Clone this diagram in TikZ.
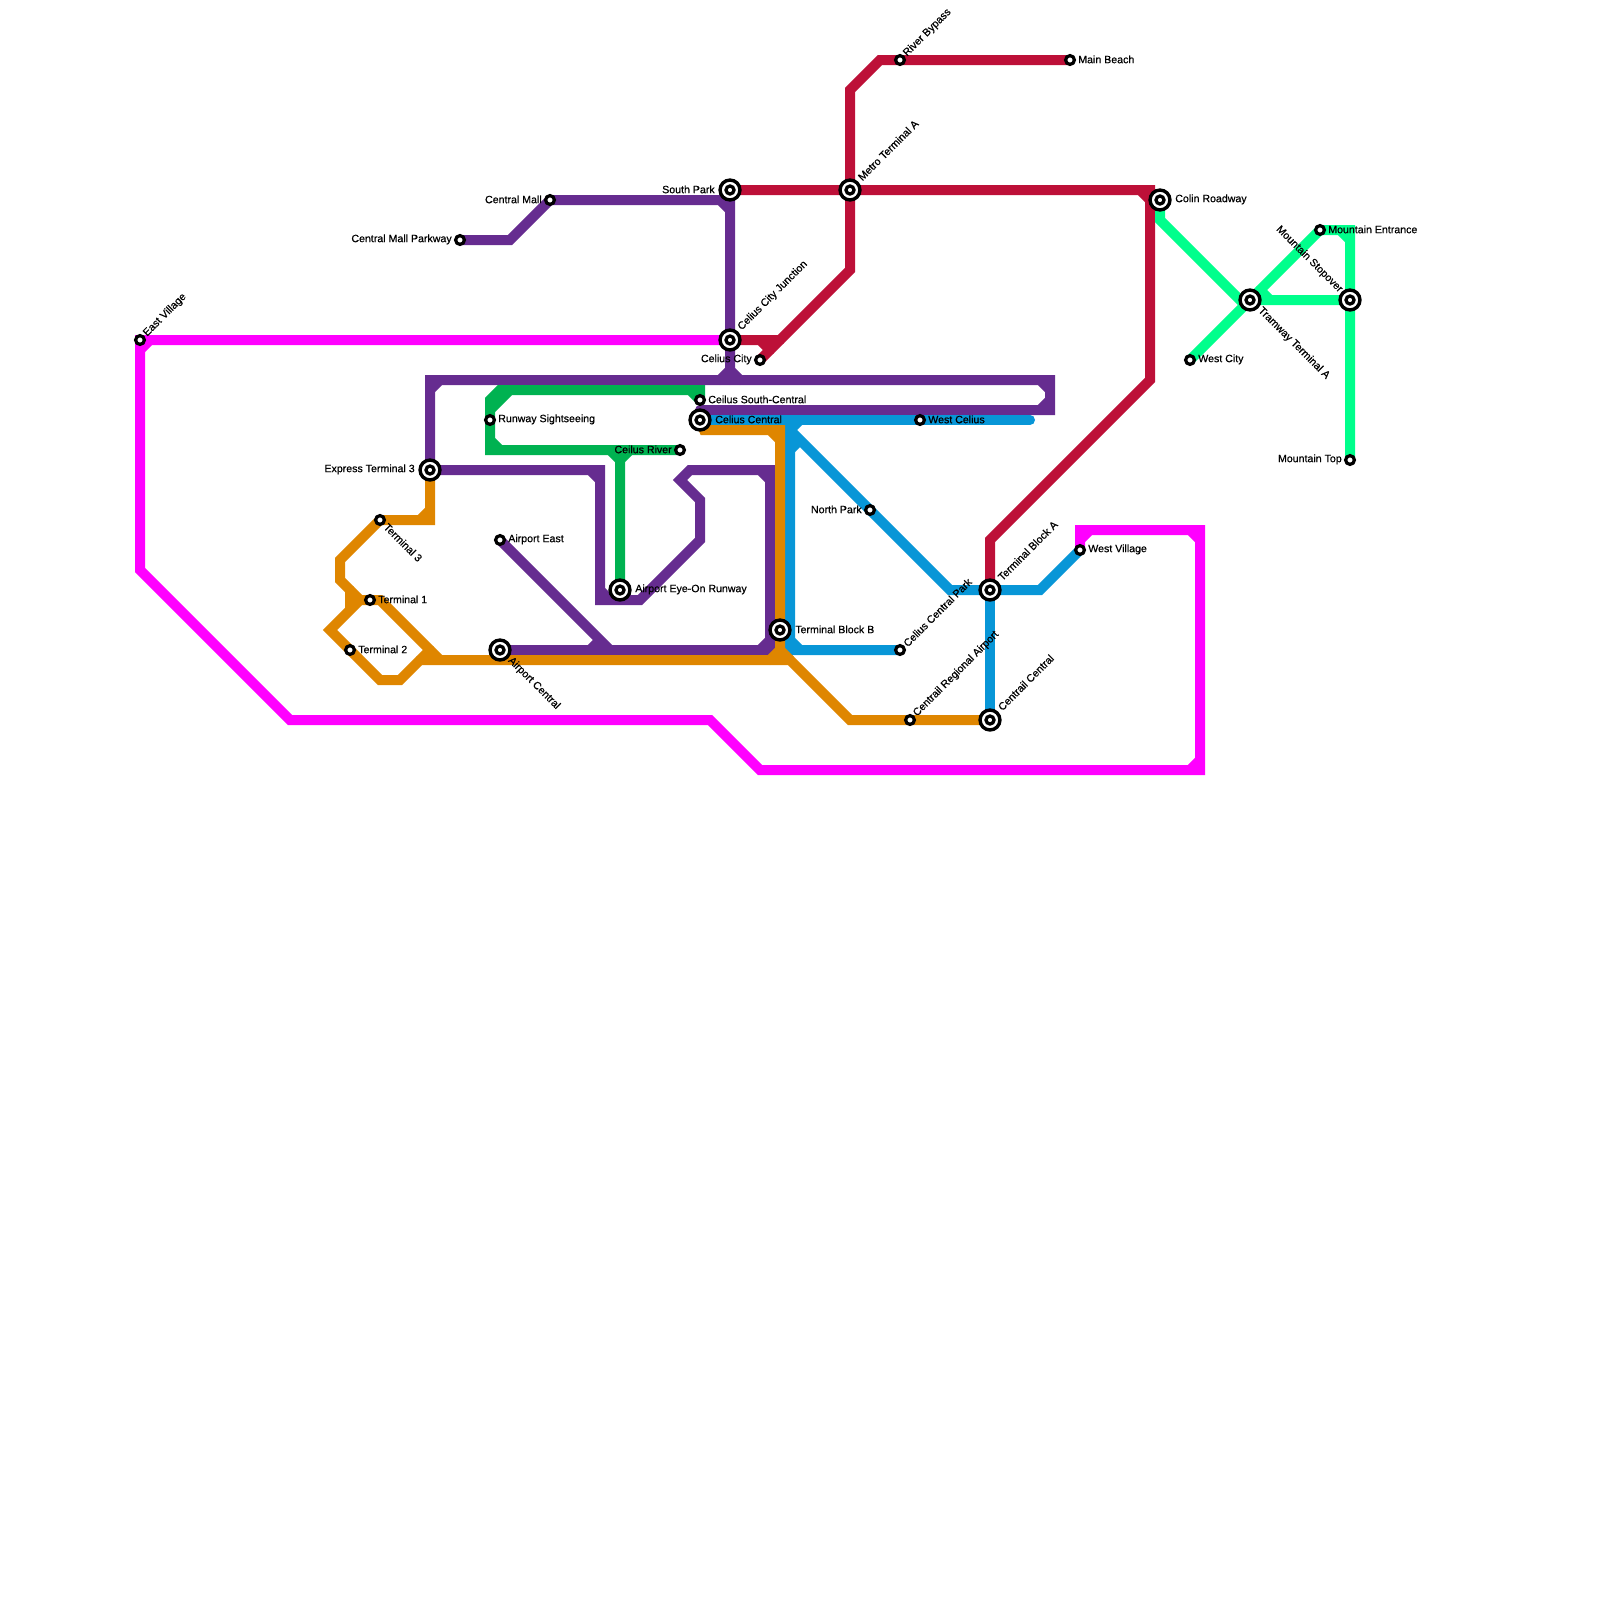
\documentclass[tikz,border=0pt]{standalone}
\usepackage{fontspec}
\setmainfont{Liberation Sans}[FakeBold=0.5]
\usetikzlibrary{backgrounds}
\definecolor{linemagenta}{HTML}{FF00FF}
\definecolor{linepurple}{HTML}{662C90}
\definecolor{linegreen}{HTML}{00B251}
\definecolor{lineorange}{HTML}{DF8600}
\definecolor{lineblue}{HTML}{0896D7}
\definecolor{linered}{HTML}{BD1038}
\definecolor{linemint}{HTML}{00FF8C}
\begin{document}
\begin{tikzpicture}[
    x=2.5mm, y=-2.5mm,
    metro/.style = {line width=2.5mm, line cap=round, line join=miter},
    stn/.style = {
        circle,
        draw=black,
        fill=white,
        line width=0.81mm,
        minimum size=2.19mm,
        inner sep=0pt
    },
    stnx/.style = {
        stn,
        line width=0.85mm,
        minimum size=4.98mm,
        path picture={\draw[line width=0.82mm] (path picture bounding box.center) circle (1mm);}
    },
    lab/.style  = {font=\fontsize{7.55}{8}\selectfont, inner sep=0pt, text=black},
    labe/.style  = {lab, anchor=west, xshift=2mm, yshift=0.15mm},
    labex/.style = {lab, anchor=west, xshift=3.75mm, yshift=0.15mm},
    labw/.style  = {lab, anchor=east, xshift=-2mm, yshift=0.15mm},
    labwx/.style = {lab, anchor=east, xshift=-3.75mm, yshift=0.15mm},
    labne/.style  = {lab, xshift=1.25mm, yshift=1.25mm, anchor=west, rotate=45},
    labnex/.style = {lab, xshift=2.4mm, yshift=2.8mm, anchor=west, rotate=45},
    labse/.style  = {lab, xshift=1.4mm, yshift=-1.25mm, anchor=west, rotate=-45},
    labsex/.style = {lab, xshift=2.4mm, yshift=-2.25mm, anchor=west, rotate=-45},
    labnwx/.style = {lab, xshift=-2.25mm, yshift=2.25mm, anchor=east, rotate=-45}
]

\useasboundingbox (0,0) rectangle (160,160);

\node[stn]  (eastvillage) at (14,34) {};
\node[stn]  (mallparkway) at (46,24) {};
\node[stn]  (centralmall) at (55,20) {};
\node[stnx] (southpark) at (73,19) {};
\node[stnx] (cityjunction) at (73,34) {};
\node[stn]  (celiuscity) at (76,36) {};
\node[stnx] (metroa) at (85,19) {};
\node[stn]  (riverbypass) at (90,6) {};
\node[stn]  (mainbeach) at (107,6) {};
\node[stnx] (colinroadway) at (116,20) {};
\node[stn]  (mountainentrance) at (132,23) {};
\node[stnx] (mountainstopover) at (135,30) {};
\node[stnx] (tramwaya) at (125,30) {};
\node[stn]  (westcity) at (119,36) {};
\node[stn]  (mountaintop) at (135,46) {};
\node[stnx] (express) at (43,47) {};
\node[stn]  (runway) at (49,42) {};
\node[stn]  (southcentral) at (70,40) {};
\node[stnx] (celiuscentral) at (70,42) {};
\node[stn]  (westcelius) at (92,42) {};
\node[stn]  (celiusriver) at (68,45) {};
\node[stn]  (northpark) at (87,51) {};
\node[stn]  (terminalc) at (38,52) {};
\node[stn]  (airporteast) at (50,54) {};
\node[stn]  (terminala) at (37,60) {};
\node[stn]  (terminalb) at (35,65) {};
\node[stnx] (airportcentral) at (50,65) {};
\node[stnx] (eyeon) at (62,59) {};
\node[stnx] (blockb) at (78,63) {};
\node[stn]  (centralpark) at (90,65) {};
\node[stn]  (regional) at (91,72) {};
\node[stnx] (centrail) at (99,72) {};
\node[stnx] (blocka) at (99,59) {};
\node[stn]  (westvillage) at (108,55) {};
\coordinate (blueend) at (103,42);
\coordinate (purpleend) at (70,41);

\begin{scope}[on background layer]
\draw[metro, linemagenta] (westvillage.center) -- (108,53) -- (120,53) -- (120,77) -- (76,77) -- (71,72)
    -- (29,72) -- (14,57) -- (eastvillage.center) -- (cityjunction.center)
    (108,54) -- (109,53) (119,53) -- (120,54) (120,76) -- (119,77) (14,35) -- (15,34);

\draw[metro, linepurple] (mallparkway.center) -- (51,24) -- (centralmall.center) -- (73,20) -- (73,38)
    (72,20) -- (73,21) (72,38) -- (73,37) (74,38) -- (73,37);
\draw[metro, linepurple] (express.center) -- (43,38) -- (105,38) -- (105,41) -- (purpleend)
    (43,39) -- (44,38) (104,38) -- (105,39) (105,40) -- (104,41);
\draw[metro, linepurple] (express.center) -- (60,47) -- (60,60) -- (64,60) -- (70,54) -- (70,50) -- (68,48)
    -- (69,47) -- (77,47) -- (77,65) -- (airportcentral.center)
    (59,47) -- (60,48) (60,59) -- (61,60) (76,47) -- (77,48) (77,64) -- (76,65);
\draw[metro, linepurple] (airporteast.center) -- (61,65) (60,64) -- (59,65);

\draw[metro, linegreen] (celiusriver.center) -- (49,45) -- (49,40) -- (50,39) -- (70,39) -- (southcentral.center)
    (49,44) -- (50,45) (49,41) -- (51,39) (69,39) -- (70,40);
\draw[metro, linegreen] (62,45) -- (eyeon.center) (61,45) -- (62,46) (63,45) -- (62,46);

\draw[metro, lineblue] (celiuscentral.center) -- (blueend);
\draw[metro, lineblue] (79,42) -- (79,65) -- (centralpark.center) (80,42) -- (79,43) (79,64) -- (80,65);
\draw[metro, lineblue] (79,43) -- (northpark.center) -- (95,59) -- (blocka.center) -- (104,59) -- (westvillage.center)
    (79,45) -- (80,44);
\draw[metro, lineblue] (blocka.center) -- (centrail.center);

\draw[metro, linered] (mainbeach.center) -- (88,6) -- (85,9) -- (85,27) -- (celiuscity.center);
\draw[metro, linered] (southpark.center) -- (115,19) -- (115,38) -- (99,54) -- (blocka.center)
    (114,19) -- (115,20);
\draw[metro, linered] (cityjunction.center) -- (78,34) (76,34) -- (77,35);

\draw[metro, lineorange] (express.center) -- (43,52) -- (terminalc.center) -- (34,56) -- (34,58) -- (36,60)
    -- (terminala.center) -- (38,60) -- (44,66) -- (79,66) -- (85,72) -- (centrail.center)
    (42,52) -- (43,51) (42,66) -- (44,66);
\draw[metro, lineorange] (36,60) -- (33,63) -- (38,68) -- (40,68) -- (43,65) (35,59) -- (35,61);
\draw[metro, lineorange] (celiuscentral.center) -- (70.4,43) -- (78,43) -- (78,65) -- (79,66)
    (78,65) -- (77,66) (77,43) -- (78,44);

\draw[metro, linemint] (colinroadway.center) -- (116,22) -- (124,30) -- (tramwaya.center);
\draw[metro, linemint] (westcity.center) -- (mountainentrance.center) -- (135,23) -- (mountaintop.center)
    (134,23) -- (135,24);
\draw[metro, linemint] (tramwaya.center) -- (mountainstopover.center) (126,29) -- (127,30);
\end{scope}

\node[labne]  (eastvillagelbl) at (eastvillage) {East Village};
\node[labw]   (mallparkwaylbl) at (mallparkway) {Central Mall Parkway};
\node[labw]   (centralmalllbl) at (centralmall) {Central Mall};
\node[labwx]  (southparklbl) at (southpark) {South Park};
\node[labnex] (cityjunctionlbl) at (cityjunction) {Celius City Junction};
\node[labw]   (celiuscitylbl) at (celiuscity) {Celius City};
\node[labnex] (metroalbl) at (metroa) {Metro Terminal A};
\node[labne]  (riverbypasslbl) at (riverbypass) {River Bypass};
\node[labe]   (mainbeachlbl) at (mainbeach) {Main Beach};
\node[labex]  (colinroadwaylbl) at (colinroadway) {Colin Roadway};
\node[labe]   (mountainentrancelbl) at (mountainentrance) {Mountain Entrance};
\node[labnwx] (mountainstopoverlbl) at (mountainstopover) {Mountain Stopover};
\node[labsex] (tramwayalbl) at (tramwaya) {Tramway Terminal A};
\node[labe]   (westcitylbl) at (westcity) {West City};
\node[labw]   (mountaintoplbl) at (mountaintop) {Mountain Top};
\node[labwx]  (expresslbl) at (express) {Express Terminal 3};
\node[labe]   (runwaylbl) at (runway) {Runway Sightseeing};
\node[labe]   (southcentrallbl) at (southcentral) {Ceilus South-Central};
\node[labex]  (celiuscentrallbl) at (celiuscentral) {Celius Central};
\node[labe]   (westceliuslbl) at (westcelius) {West Celius};
\node[labw]   (celiusriverlbl) at (celiusriver) {Ceilus River};
\node[labw]   (northparklbl) at (northpark) {North Park};
\node[labse]  (terminalclbl) at (terminalc) {Terminal 3};
\node[labe]   (airporteastlbl) at (airporteast) {Airport East};
\node[labe]   (terminalalbl) at (terminala) {Terminal 1};
\node[labe]   (terminalblbl) at (terminalb) {Terminal 2};
\node[labsex] (airportcentrallbl) at (airportcentral) {Airport Central};
\node[labex]  (eyeonlbl) at (eyeon) {Airport Eye-On Runway};
\node[labex]  (blockblbl) at (blockb) {Terminal Block B};
\node[labne]  (centralparklbl) at (centralpark) {Celius Central Park};
\node[labne]  (regionallbl) at (regional) {Centrail Regional Airport};
\node[labnex] (centraillbl) at (centrail) {Centrail Central};
\node[labnex] (blockalbl) at (blocka) {Terminal Block A};
\node[labe]   (westvillagelbl) at (westvillage) {West Village};

\end{tikzpicture}
\end{document}
